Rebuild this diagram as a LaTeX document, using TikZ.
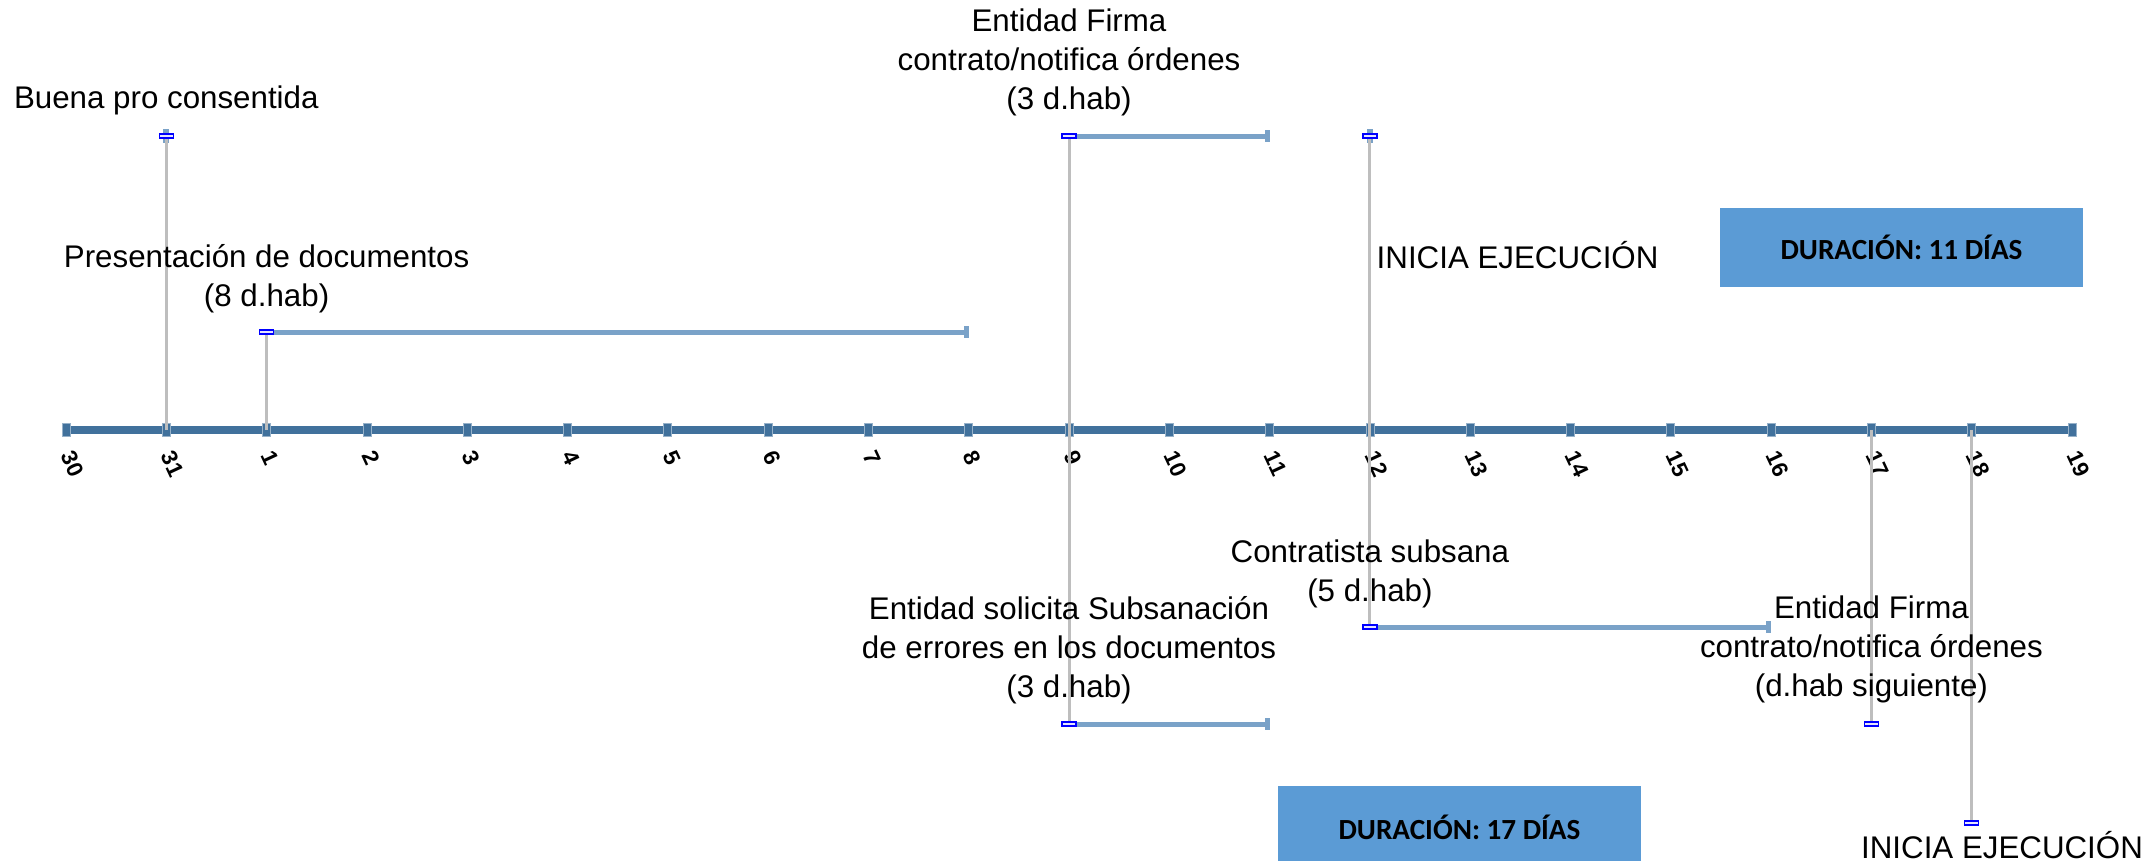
\documentclass[tikz,border=0pt]{standalone}
\usepackage{fontspec}
\setmainfont{Liberation Sans}
\newfontfamily\calibri{Carlito}
\usetikzlibrary{arrows.meta}

\definecolor{axisblue}{RGB}{65,113,156}
\definecolor{barblue}{RGB}{122,162,200}
\definecolor{guidegray}{RGB}{190,190,190}
\definecolor{boxblue}{RGB}{91,155,213}

\tikzset{
  timeline/.style={line width=0.085cm, axisblue},
  tickmark/.style={fill=axisblue, draw=axisblue!55, line width=0.2pt, minimum width=0.08cm, minimum height=0.13cm, inner sep=0},
  daylabel/.style={anchor=west, rotate=-65, inner sep=0, font=\fontsize{6.4}{7}\selectfont\bfseries},
  durbar/.style={line width=0.05cm, barblue, -{Rectangle[length=0.05cm, width=0.12cm]}},
  guide/.style={line width=0.03cm, guidegray},
  handle/.style={draw=blue, fill=blue!10, line width=0.35pt, minimum width=0.14cm, minimum height=0.04cm, inner sep=0},
  event/.style={align=center, inner sep=0, font=\fontsize{8.9}{11.1}\selectfont},
  durbox/.style={fill=boxblue, minimum width=3.63cm, font=\calibri\bfseries\fontsize{8.3}{10}\selectfont}
}

\begin{document}
\begin{tikzpicture}[x=0.01cm, y=-0.01cm]
  \useasboundingbox (0,0) rectangle (2151,860);

  % eje de dias
  \foreach \d [count=\i from 0] in {30,31,1,2,...,19} {
    \coordinate (d\d) at (66+100.3*\i,430);
    \node[daylabel] (l\d) at (67+100.3*\i,452) {\d};
  }
  \draw[timeline] (d30) -- (d19);
  \foreach \d in {30,31,1,2,...,19}
    \node[tickmark] (k\d) at (d\d) {};

  % puntos de los hitos
  \coordinate (p31) at (d31 |- 0,136);
  \coordinate (p1) at (d1 |- 0,332);
  \coordinate (p9) at (d9 |- 0,136);
  \coordinate (p12) at (d12 |- 0,136);
  \coordinate (q9) at (d9 |- 0,724);
  \coordinate (q12) at (d12 |- 0,627);
  \coordinate (q17) at (d17 |- 0,724);
  \coordinate (q18) at (d18 |- 0,823);

  \draw[durbar] (p1) -- (p1 -| d8);
  \draw[durbar] (p9) -- (p9 -| d11);
  \draw[durbar] (q9) -- (q9 -| d11);
  \draw[durbar] (q12) -- (q12 -| d16);
  \fill[barblue] (p31) ++(-3,-7) rectangle ++(6,14);
  \fill[barblue] (p12) ++(-3,-7) rectangle ++(6,14);

  \draw[guide] (p31) -- (d31);
  \draw[guide] (p1) -- (d1);
  \draw[guide] (p9) -- (q9);
  \draw[guide] (p12) -- (q12);
  \draw[guide] (d17) -- (q17);
  \draw[guide] (d18) -- (q18);

  \foreach \p in {p31,p1,p9,p12,q9,q12,q17,q18}
    \node[handle] (h\p) at (\p) {};

  % textos
  \node[event] (buena) at (d31 |- 0,100) {Buena pro consentida};
  \node[event] (presenta) at (d1 |- 0,279) {Presentación de documentos\\(8 d.hab)};
  \node[event] (firma) at (d9 |- 0,62) {Entidad Firma\\contrato/notifica órdenes\\(3 d.hab)};
  \node[event, anchor=west] (inicia) at (1376,255) {INICIA EJECUCIÓN};
  \node[event] (solicita) at (d9 |- 0,650) {Entidad solicita Subsanación\\de errores en los documentos\\(3 d.hab)};
  \node[event] (subsana) at (d12 |- 0,574) {Contratista subsana\\(5 d.hab)};
  \node[event] (firmados) at (d17 |- 0,649) {Entidad Firma\\contrato/notifica órdenes\\(d.hab siguiente)};
  \node[event] (iniciados) at (2002,845) {INICIA EJECUCIÓN};

  \node[durbox, minimum height=0.79cm] (duruno) at (1901.5,247.5) {DURACIÓN: 11 DÍAS};
  \node[durbox, minimum height=0.82cm] (durdos) at (1459.5,827) {DURACIÓN: 17 DÍAS};
\end{tikzpicture}
\end{document}
